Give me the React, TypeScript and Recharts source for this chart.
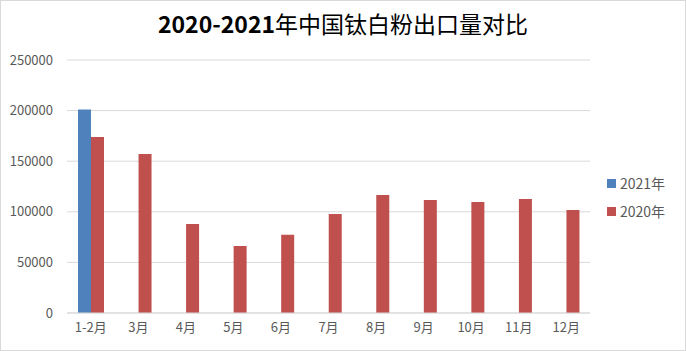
import { Bar, BarChart, CartesianGrid, XAxis, YAxis } from "recharts";

const months = ["1-2月", "3月", "4月", "5月", "6月", "7月", "8月", "9月", "10月", "11月", "12月"];
const export2021: Array<number | null> = [201000, null, null, null, null, null, null, null, null, null, null];
const export2020 = [173800, 157000, 88000, 66300, 77200, 97900, 116600, 111700, 109700, 112700, 101800];
const yTicks = [0, 50000, 100000, 150000, 200000, 250000];

const data = months.map((m, i) => ({ month: m, y2021: export2021[i], y2020: export2020[i] }));

const FONT = '"Noto Sans CJK SC", "Noto Sans", sans-serif';
const series = [
  { key: "y2021", label: "2021年", color: "#4F81BD" },
  { key: "y2020", label: "2020年", color: "#C0504D" },
];

function LegendBox() {
  return (
    <div style={{ position: "absolute", left: 606, top: 168, fontFamily: FONT, fontSize: 14, color: "#595959" }}>
      {series.map((s) => (
        <div key={s.key} style={{ display: "flex", alignItems: "center", height: 28 }}>
          <span style={{ width: 9, height: 9, background: s.color, marginRight: 4 }} />
          <span>{s.label}</span>
        </div>
      ))}
    </div>
  );
}

export default function App() {
  return (
    <div
      style={{
        position: "absolute",
        left: 0,
        top: 0,
        width: 686,
        height: 351,
        boxSizing: "border-box",
        border: "1px solid #d9d9d9",
        background: "#fff",
        fontFamily: FONT,
      }}
    >
      <div
        style={{
          position: "absolute",
          top: 6,
          left: 0,
          width: 684,
          textAlign: "center",
          fontSize: 23,
          color: "#000",
          lineHeight: "32px",
        }}
      >
        <span style={{ fontWeight: 700 }}>2020-2021</span>
        <span style={{ fontWeight: 400 }}>年中国钛白粉出口量对比</span>
      </div>
      <div style={{ position: "absolute", left: -1, top: -1 }}>
        <BarChart
          width={686}
          height={351}
          data={data}
          margin={{ top: 60, right: 96, bottom: 8, left: 0 }}
          barGap={0}
          barCategoryGap="22%"
        >
          <CartesianGrid vertical={false} stroke="#d9d9d9" />
          <XAxis
            dataKey="month"
            height={30}
            tickLine={false}
            axisLine={{ stroke: "#d9d9d9" }}
            tick={{ fill: "#595959", fontSize: 13, fontFamily: FONT }}
            tickMargin={4}
            interval={0}
          />
          <YAxis
            width={67}
            domain={[0, 250000]}
            ticks={yTicks}
            tickLine={false}
            axisLine={false}
            tick={{ fill: "#595959", fontSize: 13, fontFamily: FONT }}
            tickMargin={8}
          />
          {series.map((s) => (
            <Bar key={s.key} dataKey={s.key} name={s.label} fill={s.color} barSize={13} isAnimationActive={false} />
          ))}
        </BarChart>
      </div>
      <LegendBox />
    </div>
  );
}
